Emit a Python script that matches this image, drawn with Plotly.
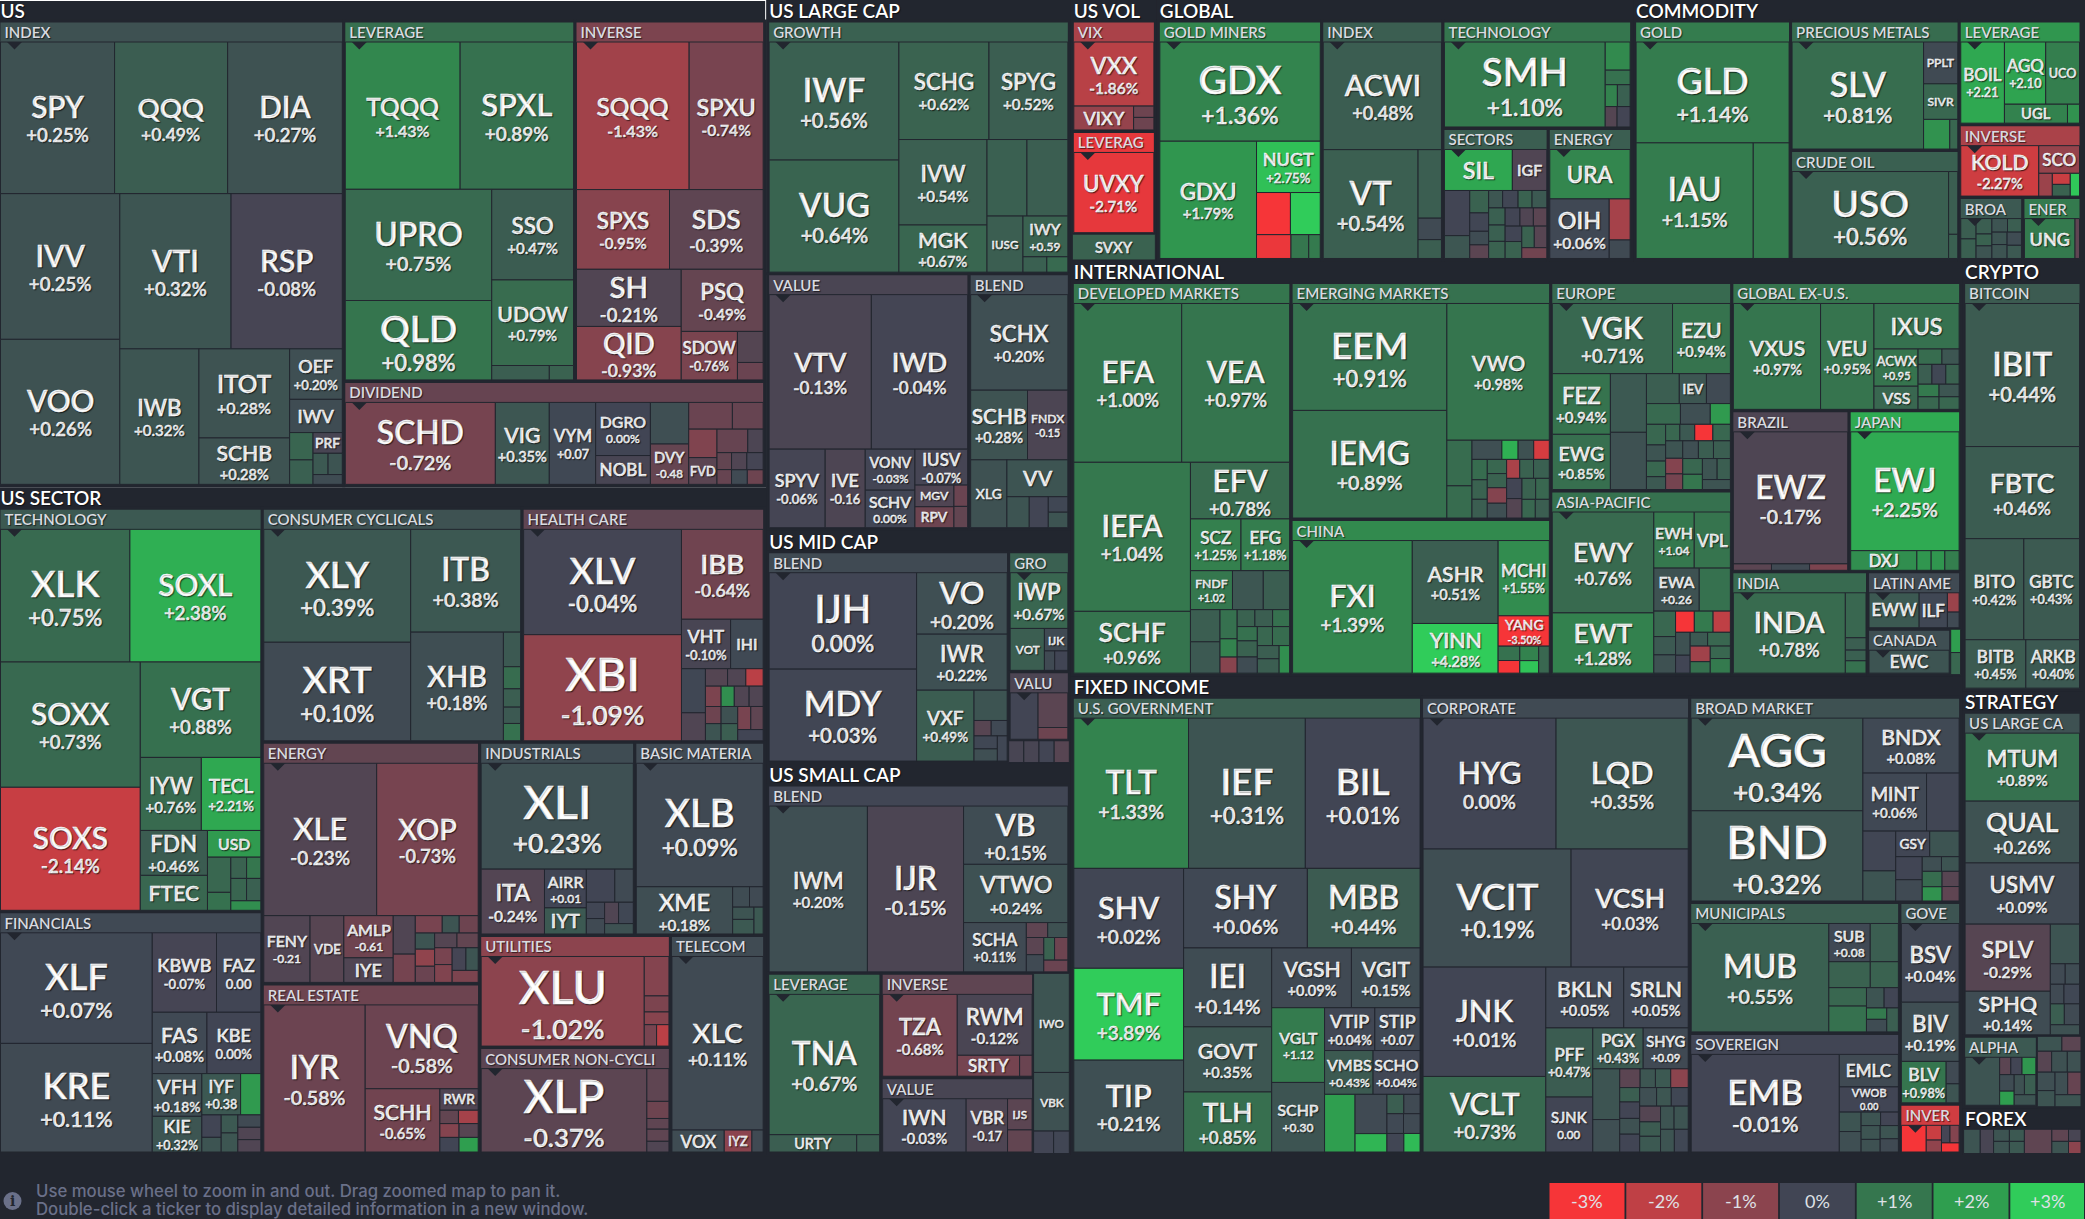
import plotly.graph_objects as go

# ---- values: tickers, relative cell sizes, % change ----
us_index_t = ["SPY", "QQQ", "DIA", "IVV", "VOO", "VTI", "RSP", "IWB", "ITOT", "SCHB", "OEF", "IWV", "", "", "PRF"]
us_index_s = [102.8, 101.9, 103.3, 103.3, 102.8, 102.6, 102.6, 63.7, 48.0, 25.0, 15.8, 10.4, 3.8, 3.4, 3.6, 1.9, 1.8, 1.7]
us_index_c = [0.25, 0.49, 0.27, 0.25, 0.26, 0.32, -0.08, 0.32, 0.28, 0.28, 0.20, 0.15, 0.65, 0.55, -0.1, 0.4, 0.3, 0.15]
us_lev_t = ["TQQQ", "SPXL", "UPRO", "QLD", "SSO", "UDOW"]
us_lev_s = [101.8, 100.5, 98.0, 70.0, 44.6, 42.1, 5.0, 2.1]
us_lev_c = [1.43, 0.89, 0.75, 0.98, 0.47, 0.79, 0.5, 0.6]
us_inv_t = ["SQQQ", "SPXU", "SPXS", "SDS", "SH", "QID", "PSQ", "SDOW"]
us_inv_s = [100.0, 65.7, 44.6, 44.9, 36.0, 33.7, 30.6, 16.4, 4.8, 2.7]
us_inv_c = [-1.43, -0.74, -0.95, -0.39, -0.21, -0.93, -0.49, -0.76, -0.25, -0.55]
us_div_t = ["SCHD", "VIG", "VYM", "DGRO", "NOBL", "", "DVY", "", "", "", "FVD"]
us_div_s = [74.8, 26.9, 23.1, 17.7, 9.6, 9.7, 9.4, 7.1, 5.0, 4.9, 4.6, 4.4, 2.2, 1.5, 1.3, 1.6, 1.7, 1.4, 1.4]
us_div_c = [-0.72, 0.35, 0.07, 0.0, -0.1, 0.2, -0.48, -0.55, -0.5, -0.85, -0.35, -0.5, -0.15, -0.45, -0.5, -0.2, -0.05, 0.1, -0.6]

tech_t = ["XLK", "SOXL", "SOXX", "SOXS", "VGT", "IYW", "TECL", "FDN", "FTEC", "USD"]
tech_s = [102.4, 103.6, 104.5, 102.6, 68.6, 26.6, 25.9, 18.0, 14.0, 8.5, 4.9, 2.5, 2.0, 1.8, 2.1, 1.9, 1.7]
tech_c = [0.75, 2.38, 0.73, -2.14, 0.88, 0.76, 2.21, 0.46, 0.7, 1.9, 0.7, 0.9, 0.6, 1.0, 0.65, 0.55, 1.6]
fin_t = ["XLF", "KRE", "KBWB", "FAZ", "FAS", "KBE", "VFH", "KIE", "IYF"]
fin_s = [100.6, 98.8, 30.6, 21.1, 20.1, 19.8, 12.7, 10.6, 9.6, 5.0, 2.6, 1.7, 1.8, 1.9, 1.7, 1.7, 1.7]
fin_c = [0.07, 0.11, -0.07, 0.0, 0.08, 0.0, 0.18, 0.32, 0.38, 1.9, 0.0, 0.3, 0.4, 0.35, 0.1, -0.2, -0.2]
cyc_t = ["XLY", "XRT", "ITB", "XHB"]
cyc_s = [100.4, 87.6, 68.4, 61.0, 3.6, 2.3, 1.9, 1.7, 1.8]
cyc_c = [0.39, 0.10, 0.38, 0.18, 0.4, 0.8, 0.5, 0.4, 0.9]
health_t = ["XLV", "XBI", "IBB", "VHT", "IHI"]
health_s = [99.2, 99.9, 43.8, 14.5, 9.6, 6.3, 4.0, 2.3, 1.9, 1.8, 1.9, 1.6, 1.6, 1.6, 1.8, 1.7, 1.7, 1.7, 1.8, 1.7, 1.7]
health_c = [-0.04, -1.09, -0.64, -0.10, 0.08, 0.05, -0.2, -0.25, -0.2, -1.9, -0.8, -0.6, 0.3, 1.6, -0.2, -0.2, 0.25, 0.5, -0.75, -0.4, 0.0]
energy_t = ["XLE", "XOP", "FENY", "VDE", "AMLP", "IYE"]
energy_s = [99.2, 89.2, 17.8, 13.0, 12.0, 7.0, 4.9, 3.6, 2.7, 1.7, 1.9, 1.8, 1.9, 1.8, 1.9, 1.8, 1.7, 1.8, 1.8, 1.6, 1.8]
energy_c = [-0.23, -0.73, -0.21, -0.3, -0.61, -0.2, -0.2, -0.7, -0.75, 0.3, -0.6, 0.3, -1.1, -0.55, -0.25, -0.45, -0.75, -0.85, -0.05, 0.3, -0.8]
realty_t = ["IYR", "VNQ", "SCHH", "RWR"]
realty_s = [96.0, 61.0, 30.4, 5.3, 1.6, 1.7, 1.7, 1.8, 1.7, 1.8]
realty_c = [-0.58, -0.58, -0.65, -0.2, -0.45, -1.5, -0.9, 0.0, -0.3, 2.0]
indust_t = ["XLI", "ITA", "AIRR", "IYT"]
indust_s = [97.3, 24.8, 9.8, 6.6, 5.7, 3.7, 1.8, 1.7, 1.8, 1.9, 1.8]
indust_c = [0.23, -0.24, 0.01, 0.4, 0.0, 0.1, 0.02, 0.1, -0.2, 0.05, 0.25]
basic_t = ["XLB", "XME"]
basic_s = [95.7, 27.8, 2.1, 1.7, 1.6, 1.9, 1.5]
basic_c = [0.09, 0.18, 0.15, 0.1, 0.3, 0.4, 0.4]
util_t = ["XLU"]
util_s = [88.6, 5.9, 2.4, 1.9, 1.6, 1.6]
util_c = [-1.02, -0.9, -0.8, -0.95, -0.75, -1.9]
staples_t = ["XLP"]
staples_s = [87.8, 4.6, 2.4, 1.5, 1.7, 1.5]
staples_c = [-0.37, -0.4, -0.6, -0.4, -0.4, -0.2]
telecom_t = ["XLC", "VOX", "IYZ"]
telecom_s = [96.4, 7.0, 3.7, 1.5]
telecom_c = [0.11, 0.15, -1.0, 0.1]

growth_t = ["IWF", "VUG", "SCHG", "SPYG", "IVW", "MGK", "", "", "IUSG", "IWY"]
growth_s = [104.8, 99.5, 60.1, 52.6, 51.5, 28.4, 20.9, 21.4, 13.8, 12.5, 2.5, 2.2]
growth_c = [0.56, 0.64, 0.62, 0.52, 0.54, 0.67, 0.55, 0.5, 0.5, 0.59, 0.55, 0.75]
value_t = ["VTV", "IWD", "SPYV", "IVE", "VONV", "SCHV", "IUSV", "MGV", "RPV"]
value_s = [108.4, 102.1, 30.2, 21.6, 14.0, 12.8, 13.0, 5.8, 5.6, 2.0, 2.0]
value_c = [-0.13, -0.04, -0.06, -0.16, -0.03, 0.0, -0.07, -0.2, -0.6, -0.55, -0.45]
blend_t = ["SCHX", "SCHB", "FNDX", "XLG", "VV"]
blend_s = [64.5, 27.5, 19.5, 17.1, 15.6, 4.8, 4.1, 2.1, 2.1]
blend_c = [0.20, 0.28, -0.15, 0.25, 0.3, 0.3, -0.02, 0.05, 0.3]

mid_blend_t = ["IJH", "MDY", "VO", "IWR", "VXF"]
mid_blend_s = [75.1, 71.6, 29.4, 26.8, 21.5, 5.3, 1.4, 1.3, 1.6, 1.5, 1.3]
mid_blend_c = [0.0, 0.03, 0.20, 0.22, 0.49, 0.3, -0.3, 0.08, 0.05, 0.2, 0.05]
mid_gro_t = ["IWP", "VOT", "IJK"]
mid_gro_s = [17.7, 7.9, 2.9, 1.1, 1.4]
mid_gro_c = [0.67, 0.5, 0.1, 0.1, 0.0]
mid_val_t = []
mid_val_s = [7.4, 5.9, 2.0]
mid_val_c = [-0.02, -0.35, -0.6]
mid_rest_t = []
mid_rest_s = [1.0, 1.0, 1.0, 1.0]
mid_rest_c = [-0.1, -0.1, -0.02, -0.3]

small_blend_t = ["IWM", "IJR", "VB", "VTWO", "SCHA"]
small_blend_s = [86.9, 85.0, 32.4, 32.4, 16.5, 1.7, 1.6, 1.6, 1.6, 1.3, 1.6, 1.5]
small_blend_c = [0.20, -0.15, 0.15, 0.24, 0.11, -0.4, 0.25, -0.35, 0.1, 0.6, -0.6, -0.55]
small_lev_t = ["TNA", "URTY"]
small_lev_s = [86.0, 8.4, 2.2]
small_lev_c = [0.67, 0.5, 0.5]
small_inv_t = ["TZA", "RWM", "SRTY"]
small_inv_s = [35.1, 26.2, 7.5, 1.5]
small_inv_c = [-0.68, -0.12, -0.7, -0.55]
small_val_t = ["IWN", "VBR", "IJS"]
small_val_s = [23.8, 11.8, 4.1, 2.9]
small_val_c = [-0.03, -0.17, -0.35, -0.45]
small_rest_t = ["IWO", "VBK"]
small_rest_s = [18.1, 10.7, 2.3, 1.8]
small_rest_c = [0.3, 0.25, -0.02, 0.02]

vix_t = ["VXX", "VIXY"]
vix_s = [42.4, 11.8, 1.9, 2.1]
vix_c = [-1.86, -1.2, -0.6, -0.6]
vol_lev_t = ["UVXY"]
vol_lev_s = [1.0]
vol_lev_c = [-2.71]
vol_rest_t = ["SVXY"]
vol_rest_s = [1.0]
vol_rest_c = [0.6]

miners_t = ["GDX", "GDXJ", "NUGT"]
miners_s = [128.0, 91.2, 26.3, 11.5, 10.1, 6.6, 3.4, 2.2]
miners_c = [1.36, 1.79, 2.75, -3.3, 3.2, -2.8, 1.0, 1.1]
gl_index_t = ["ACWI", "VT"]
gl_index_s = [104.0, 84.3, 13.1, 4.1, 3.6]
gl_index_c = [0.48, 0.54, 0.5, 0.1, 0.5]
gl_tech_t = ["SMH"]
gl_tech_s = [113.0, 5.8, 3.0, 2.2, 2.3, 2.0, 2.2]
gl_tech_c = [1.10, 1.5, 0.9, 1.3, 0.55, -0.25, -0.03]
gl_sect_t = ["SIL", "IGF"]
gl_sect_s = [21.7, 11.0, 8.9, 4.5, 3.3, 2.7, 2.0, 2.0, 1.9, 2.1, 1.9, 2.0, 2.2, 2.1, 2.2, 2.1, 1.9, 1.9, 2.0, 2.2, 2.1, 2.1, 2.1]
gl_sect_c = [2.2, -0.2, -0.02, 0.35, 0.6, 0.03, 0.15, -0.35, 0.35, 0.02, 0.6, 0.4, 0.55, 0.55, 0.6, -0.02, -0.2, -0.35, 0.0, 0.6, 0.6, -0.3, -0.65]
gl_energy_t = ["URA", "OIH"]
gl_energy_s = [32.9, 29.3, 7.1, 3.2]
gl_energy_c = [1.4, 0.06, -1.5, 0.1]

gold_t = ["GLD", "IAU"]
gold_s = [135.6, 119.0, 36.4]
gold_c = [1.14, 1.15, 1.15]
metals_t = ["SLV", "PPLT", "SIVR"]
metals_s = [125.0, 12.7, 10.8, 6.9, 2.1]
metals_c = [0.81, 0.1, 0.7, 1.7, 0.7]
crude_t = ["USO"]
crude_s = [123.0, 5.2, 2.0]
crude_c = [0.56, 0.5, 0.55]
com_lev_t = ["BOIL", "AGQ", "UCO", "UGL"]
com_lev_s = [31.2, 22.6, 18.5, 10.5, 2.0]
com_lev_c = [2.21, 2.10, 1.2, 1.3, 1.7]
com_inv_t = ["KOLD", "SCO"]
com_inv_s = [35.6, 10.2, 2.8, 1.8, 1.9, 1.9]
com_inv_c = [-2.27, -1.2, -1.3, -2.2, 0.6, 2.9]
broad_com_t = []
broad_com_s = [2.8, 2.7, 2.2, 1.7, 1.8, 1.9, 1.7, 1.7, 1.9, 1.7, 1.7]
broad_com_c = [0.5, 0.55, 0.5, 0.6, 0.3, 0.3, 0.5, 0.3, 0.3, 0.15, 0.4]
com_energy_t = ["UNG"]
com_energy_s = [19.2, 1.7]
com_energy_c = [1.1, -0.4]

dev_t = ["EFA", "VEA", "IEFA", "SCHF", "EFV", "SCZ", "EFG", "FNDF"]
dev_s = [137.0, 137.0, 139.0, 57.6, 44.9, 20.9, 20.1, 13.1, 9.6, 8.2, 7.6, 7.4, 4.0, 2.5, 2.2, 2.4, 2.4, 2.3, 2.3, 2.6, 2.6, 2.3, 2.6, 2.3, 2.5, 2.3]
dev_c = [1.00, 0.97, 1.04, 0.96, 0.78, 1.25, 1.18, 1.02, 0.35, 0.5, 0.5, 0.4, 0.9, 1.3, -0.95, 0.6, 0.5, 0.9, 0.9, 0.6, 0.15, 0.7, 0.8, 0.5, 0.5, 1.6]
emerg_t = ["EEM", "IEMG", "VWO"]
emerg_s = [132.5, 133.3, 112.5, 9.2, 6.5, 4.6, 2.5, 2.4, 2.4, 2.5, 2.4, 2.3, 2.2, 2.2, 2.4, 2.3, 2.0, 2.1, 2.4, 2.5, 2.4, 2.3, 2.3, 2.0, 2.1]
emerg_c = [0.91, 0.89, 0.98, 0.8, 0.8, 0.2, 2.4, 0.25, -2.4, 0.8, 0.6, 0.5, 0.7, 0.6, -0.9, 0.2, -1.6, 0.6, 0.55, -0.02, -0.25, 0.6, 0.7, 0.7, 0.5]
china_t = ["FXI", "ASHR", "YINN", "MCHI", "YANG"]
china_s = [127.7, 57.3, 34.3, 31.0, 12.5, 2.5, 2.2, 2.2, 1.9, 2.3]
china_c = [1.39, 0.51, 4.28, 1.55, -3.5, 0.9, -3.0, 1.3, 2.8, 0.7]
europe_t = ["VGK", "EZU", "FEZ", "EWG", "", "", "", "IEV"]
europe_s = [7.9, 3.8, 3.3, 3.0, 1.98, 1.93, 0.92, 0.76, 0.67, 0.66, 0.58, 0.39, 0.37, 0.29, 0.28, 0.23, 0.22, 0.23, 0.28, 0.27, 0.28, 0.25, 0.25, 0.26, 0.25, 0.28, 0.29, 0.28, 0.29, 0.26, 0.26]
europe_c = [0.71, 0.94, 0.94, 0.85, 0.4, 0.25, 0.5, 0.35, 0.1, 0.75, 0.2, 1.9, 0.7, 0.3, 0.7, 0.4, 0.7, 0.4, -3.0, 0.7, 0.3, -0.9, -0.7, 0.2, 0.5, 0.5, 0.7, 1.0, 0.3, 0.5, 0.3]
asia_t = ["EWY", "EWT", "EWH", "VPL", "EWA"]
asia_s = [9.8, 5.85, 2.17, 1.94, 1.87, 1.28, 0.53, 0.38, 0.38, 0.38, 0.38, 0.35, 0.32, 0.25, 0.23, 0.30, 0.30, 0.22, 0.24, 0.28]
asia_c = [0.76, 1.28, 1.04, 0.95, 0.26, 0.9, 0.7, 0.4, 0.25, -3.2, 1.1, -2.0, 0.25, 0.0, 0.4, 0.7, -1.4, 0.9, 0.7, 1.1]
globex_t = ["VXUS", "VEU", "IXUS", "ACWX", "VSS"]
globex_s = [80.5, 49.3, 33.8, 14.3, 8.9, 3.2, 2.3, 2.4, 2.4, 2.3, 2.3, 2.3, 2.2, 2.2]
globex_c = [0.97, 0.95, 0.9, 0.95, 0.7, 0.8, 0.35, 0.5, 0.05, 0.6, 1.1, 0.7, 0.35, 0.7]
brazil_t = ["EWZ"]
brazil_s = [136.0, 2.2, 2.2, 2.2]
brazil_c = [-0.17, -0.35, 0.1, -0.8]
japan_t = ["EWJ", "DXJ"]
japan_s = [115.0, 11.6, 2.5, 2.4, 2.5]
japan_c = [2.25, 1.6, 1.8, 1.8, 1.2]
india_t = ["INDA"]
india_s = [81.3, 8.4, 2.3, 2.0, 2.3]
india_c = [0.78, 0.7, 0.5, 0.55, 0.9]
latin_t = ["EWW", "ILF"]
latin_s = [16.3, 9.2, 2.1, 1.7]
latin_c = [0.4, 0.05, -1.3, 0.1]
canada_t = ["EWC"]
canada_s = [1.0]
canada_c = [0.3]
intl_rest_t = []
intl_rest_s = [1.9, 1.8]
intl_rest_c = [2.0, 0.7]

bitcoin_t = ["IBIT", "FBTC", "BITO", "GBTC", "BITB", "ARKB"]
bitcoin_s = [143.7, 92.5, 52.1, 49.4, 25.8, 22.8]
bitcoin_c = [0.44, 0.46, 0.42, 0.43, 0.45, 0.40]

gov_t = ["TLT", "IEF", "BIL", "SHV", "TMF", "TIP", "SHY", "MBB", "IEI", "GOVT", "TLH", "VGSH", "VGIT", "VGLT", "SCHP", "VTIP", "STIP", "VMBS", "SCHO"]
gov_s = [126.5, 128.8, 126.5, 80.5, 74.0, 74.0, 72.3, 65.8, 51.0, 42.1, 38.8, 35.0, 30.1, 29.0, 27.0, 15.8, 14.2, 15.6, 15.1, 12.9, 9.2, 4.3, 2.4, 2.3, 2.4, 2.4, 2.3, 2.2]
gov_c = [1.33, 0.31, 0.01, 0.02, 3.89, 0.21, 0.06, 0.44, 0.14, 0.35, 0.85, 0.09, 0.15, 1.12, 0.30, 0.04, 0.07, 0.43, 0.04, 2.0, 0.1, 2.5, 0.5, 0.1, 0.08, 0.1, 0.03, 2.6]
corp_t = ["HYG", "LQD", "VCIT", "VCSH", "JNK", "VCLT", "BKLN", "SRLN", "PFF", "SJNK", "PGX", "SHYG"]
corp_s = [127.5, 126.7, 128.0, 101.3, 98.3, 67.9, 34.7, 28.7, 23.8, 18.9, 15.1, 13.5, 10.0, 6.4, 2.8, 2.1, 2.1, 2.4, 2.1, 2.4, 2.3, 2.6, 2.3, 2.0, 2.3, 2.4, 2.2, 2.4, 2.3, 2.4, 2.3, 2.3]
corp_c = [0.0, 0.35, 0.19, 0.03, 0.01, 0.73, 0.05, 0.05, 0.47, 0.0, 0.43, 0.09, 0.3, 0.2, -0.35, 0.35, 0.4, -1.0, 0.5, -0.02, 0.25, 0.0, 0.2, 0.35, 0.05, -0.25, 0.45, 0.4, 0.3, 0.3, 0.3, 0.05]
broad_t = ["AGG", "BND", "BNDX", "MINT", "", "", "", "GSY"]
broad_s = [135.4, 131.8, 45.0, 31.4, 16.1, 11.1, 8.4, 7.4, 6.4, 5.2, 4.8, 2.4, 2.2, 2.6, 2.4, 2.2, 2.1]
broad_c = [0.34, 0.32, 0.08, 0.06, 0.03, 0.02, 0.3, 0.02, 0.3, 0.0, 0.1, 0.2, 0.3, 0.8, 1.7, -0.3, -0.4]
muni_t = ["MUB", "SUB"]
muni_s = [129.0, 13.7, 9.3, 9.3, 6.3, 6.0, 8.4, 3.1, 2.5, 2.0, 2.2, 2.4]
muni_c = [0.55, 0.08, 0.5, 0.6, 0.6, 0.7, 0.9, 0.3, 0.0, 1.1, 0.15, 0.5]
sov_t = ["EMB", "EMLC", "VWOB"]
sov_s = [126.4, 16.8, 13.0, 3.7, 3.9, 2.3, 2.1, 2.3, 2.1, 2.1, 2.1]
sov_c = [-0.01, 0.1, 0.0, 0.3, 0.2, 0.3, -0.02, 0.3, 0.25, 0.3, 0.1]
gove_t = ["BSV", "BIV", "BLV"]
gove_s = [40.7, 30.6, 16.6, 2.6, 2.2]
gove_c = [0.04, 0.19, 0.98, 0.1, 0.3]
fi_inv_t = []
fi_inv_s = [6.2, 2.1, 1.7, 1.4, 1.5, 1.5]
fi_inv_c = [-3.3, -2.2, -1.1, -0.05, -0.9, -3.0]

strat_t = ["MTUM", "QUAL", "USMV", "SPLV", "SPHQ"]
strat_s = [63.9, 58.1, 57.5, 47.0, 30.5, 9.5, 2.5, 2.4, 2.2, 2.5, 2.4, 2.6, 2.4]
strat_c = [0.89, 0.26, 0.09, -0.29, 0.14, 0.3, 0.1, 0.15, 0.1, 0.05, 0.5, 0.1, 0.25]
alpha_t = []
alpha_s = [14.5, 1.7, 1.7, 2.1, 2.1, 1.8, 1.8, 2.0, 2.0]
alpha_c = [0.3, -0.35, -0.02, 1.8, 0.15, 2.0, 0.25, 0.5, 0.3]
strat_rest_t = []
strat_rest_s = [2.7, 2.1, 2.2, 2.4, 2.1, 2.4, 2.1, 2.1, 2.2, 2.3]
strat_rest_c = [0.3, -0.35, -0.3, 0.25, 0.25, 0.2, 0.3, 0.2, -0.5, 0.3]
forex_t = []
forex_s = [2.0, 1.6, 0.95, 0.95, 0.9, 0.9, 3.3, 1.0, 1.0, 0.75, 0.75]
forex_c = [0.3, -0.1, 0.3, 0.3, 0.4, 0.4, -0.4, -0.4, 0.3, -0.1, -1.0]

# top level blocks: name, relative area, then (group, relative area, header change, tickers, sizes, changes)
# group None means the cells sit straight in the block, with no header of their own
BLOCKS = [
    ("US", 373, [("INDEX", 952, 0.25, us_index_t, us_index_s, us_index_c),
                 ("LEVERAGE", 495, 0.85, us_lev_t, us_lev_s, us_lev_c),
                 ("INVERSE", 406, -0.8, us_inv_t, us_inv_s, us_inv_c),
                 ("DIVIDEND", 261, -0.5, us_div_t, us_div_s, us_div_c)]),
    ("US SECTOR", 511, [("TECHNOLOGY", 631, 0.4, tech_t, tech_s, tech_c),
                        ("FINANCIALS", 378, 0.08, fin_t, fin_s, fin_c),
                        ("CONSUMER CYCLICALS", 361, 0.27, cyc_t, cyc_s, cyc_c),
                        ("HEALTH CARE", 337, -0.4, health_t, health_s, health_c),
                        ("ENERGY", 312, -0.45, energy_t, energy_s, energy_c),
                        ("REAL ESTATE", 219, -0.6, realty_t, realty_s, realty_c),
                        ("INDUSTRIALS", 178, 0.15, indust_t, indust_s, indust_c),
                        ("BASIC MATERIA", 149, 0.1, basic_t, basic_s, basic_c),
                        ("UTILITIES", 127, -1.02, util_t, util_s, util_c),
                        ("CONSUMER NON-CYCLI", 120, -0.37, staples_t, staples_s, staples_c),
                        ("TELECOM", 122, 0.12, telecom_t, telecom_s, telecom_c)]),
    ("US LARGE CAP", 161, [("GROWTH", 518, 0.57, growth_t, growth_s, growth_c),
                           ("VALUE", 350, -0.12, value_t, value_s, value_c),
                           ("BLEND", 174, 0.1, blend_t, blend_s, blend_c)]),
    ("US MID CAP", 70.8, [("BLEND", 265, 0.1, mid_blend_t, mid_blend_s, mid_blend_c),
                          ("GRO", 38, 0.55, mid_gro_t, mid_gro_s, mid_gro_c),
                          ("VALU", 21.8, -0.15, mid_val_t, mid_val_s, mid_val_c),
                          (None, 6.9, 0, mid_rest_t, mid_rest_s, mid_rest_c)]),
    ("US SMALL CAP", 118.6, [("BLEND", 300, 0.02, small_blend_t, small_blend_s, small_blend_c),
                             ("LEVERAGE", 108, 0.65, small_lev_t, small_lev_s, small_lev_c),
                             ("INVERSE", 84, -0.4, small_inv_t, small_inv_s, small_inv_c),
                             ("VALUE", 61, -0.1, small_val_t, small_val_s, small_val_c),
                             (None, 34, 0, small_rest_t, small_rest_s, small_rest_c)]),
    ("US VOL", 22.4, [("VIX", 71, -1.6, vix_t, vix_s, vix_c),
                      ("LEVERAG", 66, -2.71, vol_lev_t, vol_lev_s, vol_lev_c),
                      (None, 16.6, 0, vol_rest_t, vol_rest_s, vol_rest_c)]),
    ("GLOBAL", 124, [("GOLD MINERS", 310, 1.4, miners_t, miners_s, miners_c),
                     ("INDEX", 230, 0.5, gl_index_t, gl_index_s, gl_index_c),
                     ("TECHNOLOGY", 161, 1.0, gl_tech_t, gl_tech_s, gl_tech_c),
                     ("SECTORS", 110, 0.5, gl_sect_t, gl_sect_s, gl_sect_c),
                     ("ENERGY", 87, 0.5, gl_energy_t, gl_energy_s, gl_energy_c)]),
    ("COMMODITY", 117, [("GOLD", 319, 1.15, gold_t, gold_s, gold_c),
                        ("PRECIOUS METALS", 187, 0.8, metals_t, metals_s, metals_c),
                        ("CRUDE OIL", 158, 0.55, crude_t, crude_s, crude_c),
                        ("LEVERAGE", 108, 1.8, com_lev_t, com_lev_s, com_lev_c),
                        ("INVERSE", 76, -1.6, com_inv_t, com_inv_s, com_inv_c),
                        ("BROA", 34, 0.4, broad_com_t, broad_com_s, broad_com_c),
                        ("ENER", 31, 1.1, com_energy_t, com_energy_s, com_energy_c)]),
    ("INTERNATIONAL", 368, [("DEVELOPED MARKETS", 81.8, 1.0, dev_t, dev_s, dev_c),
                            ("EMERGING MARKETS", 58.7, 0.9, emerg_t, emerg_s, emerg_c),
                            ("CHINA", 38.4, 1.5, china_t, china_s, china_c),
                            ("EUROPE", 36, 0.75, europe_t, europe_s, europe_c),
                            ("ASIA-PACIFIC", 31.7, 0.9, asia_t, asia_s, asia_c),
                            ("GLOBAL EX-U.S.", 28, 0.95, globex_t, globex_s, globex_c),
                            ("BRAZIL", 18, -0.17, brazil_t, brazil_s, brazil_c),
                            ("JAPAN", 17.1, 2.25, japan_t, japan_s, japan_c),
                            ("INDIA", 13.3, 0.75, india_t, india_s, india_c),
                            ("LATIN AME", 5.1, 0.1, latin_t, latin_s, latin_c),
                            ("CANADA", 3.6, 0.2, canada_t, canada_s, canada_c),
                            (None, 0.43, 0, intl_rest_t, intl_rest_s, intl_rest_c)]),
    ("FIXED INCOME", 425, [("U.S. GOVERNMENT", 154.7, 0.5, gov_t, gov_s, gov_c),
                           ("CORPORATE", 118.8, 0.1, corp_t, corp_s, corp_c),
                           ("BROAD MARKET", 54, 0.25, broad_t, broad_s, broad_c),
                           ("MUNICIPALS", 26.7, 0.5, muni_t, muni_s, muni_c),
                           ("SOVEREIGN", 24.5, 0.0, sov_t, sov_s, sov_c),
                           ("GOVE", 11.9, 0.3, gove_t, gove_s, gove_c),
                           ("INVER", 2.9, -2.3, fi_inv_t, fi_inv_s, fi_inv_c)]),
    ("CRYPTO", 51.5, [("BITCOIN", 1, 0.44, bitcoin_t, bitcoin_s, bitcoin_c)]),
    ("STRATEGY", 50, [("US LARGE CA", 309, 0.25, strat_t, strat_s, strat_c),
                      ("ALPHA", 42.2, 0.4, alpha_t, alpha_s, alpha_c),
                      (None, 25, 0, strat_rest_t, strat_rest_s, strat_rest_c)]),
    ("FOREX", 5.6, [(None, 1, 0, forex_t, forex_s, forex_c)]),
]

# cells that print only the ticker, and cells that print the change without a % sign
TICKER_ONLY = {"IWV", "PRF", "NOBL", "FVD", "USD", "FTEC", "VDE", "IYE", "IYT", "IHI", "IGF", "URA", "GSY", "EMLC",
               "RWR", "IJS", "VBK", "IWO", "IEV", "VPL", "PPLT", "SIVR", "UCO", "UGL", "SCO", "UNG", "DXJ", "VSS",
               "IXUS", "EWW", "ILF", "EWC", "SVXY", "VIXY", "VV", "XLG", "IUSG", "MGV", "RPV", "SRTY", "URTY", "VOT",
               "IJK", "VOX", "IYZ", "SIL"}
NO_PERCENT = {"IWY", "VYM", "DVY", "AIRR", "IYF", "FENY", "AMLP", "IVE", "FNDX", "SCHP", "VGLT", "STIP", "VBR", "SHYG",
              "SUB", "VWOB", "SJNK", "BOIL", "AGQ", "ACWX", "EWH", "EWA", "FNDF", "FAZ"}

TICKER_FONT = {
    "SPY": 28, "QQQ": 26, "DIA": 28, "IVV": 28, "VOO": 28, "VTI": 28, "RSP": 28, "IWB": 21, "ITOT": 23, "SCHB": 20,
    "OEF": 17, "IWV": 17, "PRF": 13, "TQQQ": 23, "SPXL": 29, "UPRO": 30, "QLD": 35, "SSO": 21, "UDOW": 20,
    "SQQQ": 23, "SPXU": 22, "SPXS": 21, "SDS": 25, "SH": 28, "QID": 28, "PSQ": 21, "SDOW": 16, "SCHD": 30,
    "VIG": 20, "VYM": 16, "DGRO": 15, "NOBL": 16, "DVY": 14, "FVD": 12,
    "XLK": 35, "SOXL": 28, "SOXX": 28, "SOXS": 28, "VGT": 28, "IYW": 21, "TECL": 18, "FDN": 21, "FTEC": 20, "USD": 15,
    "XLY": 35, "ITB": 30, "XRT": 35, "XHB": 27, "XLV": 35, "IBB": 26, "XBI": 44, "VHT": 17, "IHI": 15,
    "XLE": 29, "XOP": 27, "FENY": 15, "VDE": 12.5, "AMLP": 15, "IYE": 17, "XLI": 44, "ITA": 22, "AIRR": 15, "IYT": 18,
    "XLB": 36, "XME": 25, "XLF": 34, "KRE": 34, "KBWB": 17, "FAZ": 17, "FAS": 20, "KBE": 17, "VFH": 18.5, "KIE": 18.5,
    "IYF": 16, "IYR": 30, "VNQ": 30, "SCHH": 20, "RWR": 13, "XLU": 44, "XLP": 44, "XLC": 26, "VOX": 16, "IYZ": 12,
    "IWF": 31, "VUG": 31, "SCHG": 21, "SPYG": 21, "IVW": 21, "MGK": 20, "IUSG": 11, "IWY": 15, "VTV": 25, "IWD": 25,
    "SPYV": 17, "IVE": 17, "VONV": 13.5, "SCHV": 15, "IUSV": 16, "MGV": 11.5, "RPV": 13, "SCHX": 21, "FNDX": 11.5,
    "XLG": 13, "VV": 20, "IJH": 36, "MDY": 32, "VO": 29, "IWR": 21, "VXF": 18, "IWP": 21, "VOT": 11, "IJK": 11,
    "IWM": 21, "IJR": 30, "VB": 29, "VTWO": 22, "SCHA": 16, "TNA": 30, "URTY": 16, "TZA": 21, "RWM": 21, "SRTY": 17,
    "IWN": 20, "VBR": 16, "IJS": 11, "IWO": 11, "VBK": 11, "VXX": 22, "VIXY": 17, "UVXY": 21, "SVXY": 14,
    "GDX": 37, "GDXJ": 21, "NUGT": 17, "ACWI": 27, "VT": 31, "SMH": 36, "SIL": 22, "IGF": 15, "URA": 21, "OIH": 22,
    "GLD": 34, "IAU": 30, "SLV": 32, "PPLT": 11.5, "SIVR": 11.5, "USO": 35, "BOIL": 16, "AGQ": 16, "UCO": 12, "UGL": 14,
    "KOLD": 20, "SCO": 16, "UNG": 17, "EFA": 28, "VEA": 28, "IEFA": 28, "SCHF": 25, "EFV": 31, "SCZ": 16, "EFG": 16,
    "FNDF": 11.5, "EEM": 35, "IEMG": 30, "VWO": 20, "FXI": 29, "ASHR": 20, "YINN": 20, "MCHI": 16, "YANG": 15,
    "VGK": 28, "EZU": 20, "FEZ": 21, "EWG": 18.5, "IEV": 12.5, "EWY": 25, "EWT": 25, "EWH": 15, "VPL": 16, "EWA": 15,
    "VXUS": 20, "VEU": 19, "IXUS": 22, "ACWX": 12.5, "VSS": 15, "EWZ": 30, "EWJ": 30, "DXJ": 16, "INDA": 27,
    "EWW": 16, "ILF": 16, "EWC": 16, "IBIT": 31, "FBTC": 25, "BITO": 17, "GBTC": 16, "BITB": 16, "ARKB": 16,
    "TLT": 30, "IEF": 35, "BIL": 35, "SHV": 29, "SHY": 30, "MBB": 30, "TMF": 29, "TIP": 29, "IEI": 30, "GOVT": 20,
    "TLH": 25, "VGSH": 20, "VGIT": 20, "VGLT": 15, "SCHP": 15, "VTIP": 17, "STIP": 17, "VMBS": 15, "SCHO": 15,
    "HYG": 29, "LQD": 29, "VCIT": 35, "VCSH": 25, "JNK": 29, "VCLT": 28, "BKLN": 20, "SRLN": 20, "PFF": 16,
    "SJNK": 14, "PGX": 16, "SHYG": 14, "AGG": 44, "BND": 44, "BNDX": 20, "MINT": 17.5, "GSY": 13, "MUB": 30, "SUB": 15,
    "EMB": 33, "EMLC": 16, "VWOB": 11.5, "BSV": 21, "BIV": 21, "BLV": 17, "MTUM": 21, "QUAL": 25, "USMV": 21,
    "SPLV": 21.5, "SPHQ": 21.5,
}

LEGEND_VALUES = [-3, -2, -1, 0, 1, 2, 3]
LEGEND_TEXT = ["-3%", "-2%", "-1%", "0%", "+1%", "+2%", "+3%"]

BG = "#22262f"
SCALE = [(-3, (246, 53, 56)), (-2, (191, 64, 69)), (-1, (139, 68, 78)), (0, (65, 69, 84)),
         (1, (53, 118, 78)), (2, (47, 158, 79)), (3, (48, 204, 90))]

# the page is pushed up and left by the padding plotly keeps around its root
SHIFT_X, SHIFT_Y = 4.5, 21
FIG_W, FIG_H = 2088, 1240
MAP_BOTTOM = 1156.5


def change_color(c):
    c = max(-3, min(3, c))
    for (a, ca), (b, cb) in zip(SCALE, SCALE[1:]):
        if c <= b:
            t = (c - a) / (b - a)
            r, g, bl = [round(p + (q - p) * t) for p, q in zip(ca, cb)]
            return f"rgb({r},{g},{bl})"
    return "rgb(48,204,90)"


def change_text(ticker, c):
    sign = "+" if c > 0 else ""
    tail = "" if ticker in NO_PERCENT else "%"
    return f"{sign}{c:.2f}{tail}"


def px_x(x):
    return (x + SHIFT_X) / FIG_W


def px_y(y):
    return 1 - (y + SHIFT_Y) / FIG_H


ids, parents, labels, values, colors, texts, sizes, widths, fcolors = [], [], [], [], [], [], [], [], []


def add(i, p, label, value, color, text, size, width, fcolor="#ffffff"):
    ids.append(i)
    parents.append(p)
    labels.append(label)
    values.append(value)
    colors.append(color)
    texts.append(text)
    sizes.append(size)
    widths.append(width)
    fcolors.append(fcolor)


def add_cells(prefix, parent, area, tickers, cell_sizes, changes):
    k = area / sum(cell_sizes)
    names = list(tickers) + [""] * (len(cell_sizes) - len(tickers))
    for n, (t, s, c) in enumerate(zip(names, cell_sizes, changes)):
        if t:
            fs = round(TICKER_FONT.get(t, 14) * 1.06, 1)
            small = max(10.5, round((0.45 * fs + 4.5) * 1.04, 1))
            if t in TICKER_ONLY:
                txt, base = t, fs
            else:
                txt = f'<span style="font-size:{fs}px">{t}</span><br>{change_text(t, c)}'
                base = small
        else:
            txt, base = "", 10
        add(f"{prefix}/{n}", parent, t or " ", s * k, change_color(c), txt, base, 1)


add("root", "", " ", 0, BG, "", 10, 0)
for block, block_area, groups in BLOCKS:
    add(block, "root", block, 0, BG, block, 19, 0)
    k = block_area * 1000 / sum(g[1] for g in groups)
    for g, (name, area, head, t, s, c) in enumerate(groups):
        pid = f"{block}/{g}"
        if name is None:
            add_cells(pid + "x", block, area * k, t, s, c)
        else:
            add(pid, block, name, area * k, change_color(head), name, 15, 3, "#d9dbe0")
            add_cells(pid, pid, area * k, t, s, c)

# parent sums have to match their children exactly
by_id = {i: n for n, i in enumerate(ids)}
for block, _, _ in BLOCKS:
    values[by_id[block]] = sum(values[n] for n, p in enumerate(parents) if p == block)
values[0] = sum(values[n] for n, p in enumerate(parents) if p == "root")

fig = go.Figure(
    go.Treemap(
        ids=ids,
        parents=parents,
        labels=labels,
        values=values,
        text=texts,
        textinfo="text",
        branchvalues="total",
        sort=False,
        pathbar=dict(visible=False),
        root=dict(color=BG),
        tiling=dict(packing="squarify", squarifyratio=1, pad=0),
        marker=dict(
            colors=colors,
            depthfade=False,
            line=dict(color=BG, width=widths),
            pad=dict(t=SHIFT_Y, l=1.5, r=1.5, b=1.5),
        ),
        textposition="middle center",
        textfont=dict(family="Lato", size=sizes, color=fcolors, weight=600, shadow="1px 1px 1px rgba(0,0,0,0.6)"),
        hoverinfo="skip",
        domain=dict(x=[0, 1], y=[1 - (MAP_BOTTOM + SHIFT_Y) / FIG_H, 1]),
    )
)

shapes, notes = [], []
for n, (v, txt) in enumerate(zip(LEGEND_VALUES, LEGEND_TEXT)):
    x0 = 1549 + n * 76.8
    shapes.append(dict(type="rect", xref="paper", yref="paper", x0=px_x(x0), x1=px_x(x0 + 75), y0=px_y(1183), y1=px_y(1219),
                       fillcolor=change_color(v), line=dict(width=0)))
    notes.append(dict(xref="paper", yref="paper", x=px_x(x0 + 37.5), y=px_y(1201), text=txt, showarrow=False,
                      xanchor="center", yanchor="middle", font=dict(family="Lato", size=18, color="#dfe1e6")))

shapes.append(dict(type="circle", xref="paper", yref="paper", x0=px_x(3), x1=px_x(21), y0=px_y(1192), y1=px_y(1210),
                   fillcolor="#6a7089", line=dict(width=0)))
notes.append(dict(xref="paper", yref="paper", x=px_x(12), y=px_y(1201), text="<b>i</b>", showarrow=False,
                  xanchor="center", yanchor="middle", font=dict(family="DejaVu Serif", size=14, color=BG)))
notes.append(dict(xref="paper", yref="paper", x=px_x(33), y=px_y(1190.5), xanchor="left", yanchor="middle", showarrow=False,
                  text="Use mouse wheel to zoom in and out. Drag zoomed map to pan it.",
                  font=dict(family="Inter", size=16.75, color="#6a7089", weight=500)))
notes.append(dict(xref="paper", yref="paper", x=px_x(33), y=px_y(1209), xanchor="left", yanchor="middle", showarrow=False,
                  text="Double-click a ticker to display detailed information in a new window.",
                  font=dict(family="Inter", size=16.75, color="#6a7089", weight=500)))

fig.update_layout(
    width=FIG_W,
    height=FIG_H,
    margin=dict(l=0, r=0, t=0, b=0),
    paper_bgcolor=BG,
    plot_bgcolor=BG,
    shapes=shapes,
    annotations=notes,
    showlegend=False,
)

# page offset, left aligned group headers, notches, and cell labels kept at their own size where they fit
page_fix = f"""
document.documentElement.style.background='{BG}';
document.body.style.margin='0';
document.body.style.overflow='hidden';
document.body.style.background='{BG}';
var gd=document.querySelector('.plotly-graph-div');
gd.style.marginLeft='-{SHIFT_X}px';
gd.style.marginTop='-{SHIFT_Y}px';
var NS='http://www.w3.org/2000/svg';
var trace=gd.querySelector('.treemaplayer .trace');
gd.querySelectorAll('.treemaplayer g.slice').forEach(function(s){{
  var d=s.__data__;
  if(!d||d.depth<1) return;
  var box=s.querySelector('path.surface').getBBox();
  var tx=s.querySelector('text');
  if(!d.children){{
    if(!tx||!tx.textContent.trim()) return;
    tx.style.stroke='#ffffff';
    tx.style.strokeWidth='0.35px';
    var tb=tx.getBBox();
    var k=Math.min(1,(box.width-2)/tb.width,box.height/tb.height);
    var cx=box.x+box.width/2-k*(tb.x+tb.width/2), cy=box.y+box.height/2-k*(tb.y+tb.height/2);
    tx.setAttribute('transform','translate('+cx+','+cy+') scale('+k+')');
    return;
  }}
  if(tx){{
    tx.setAttribute('text-anchor','start');
    tx.setAttribute('x',0);tx.setAttribute('y',0);
    var dx=d.depth==1?3:5.5, dy=d.depth==1?18:17;
    tx.setAttribute('transform','translate('+(box.x+dx)+','+(box.y+dy)+')');
  }}
  if(d.depth==2){{
    var y=box.y+{SHIFT_Y}, x=box.x+8;
    var p=document.createElementNS(NS,'path');
    p.setAttribute('d','M'+x+' '+y+'L'+(x+15)+' '+y+'L'+(x+7.5)+' '+(y+7.5)+'Z');
    p.setAttribute('fill','{BG}');
    trace.appendChild(p);
  }}
}});
"""
fig.write_html("out.html", post_script=page_fix)
